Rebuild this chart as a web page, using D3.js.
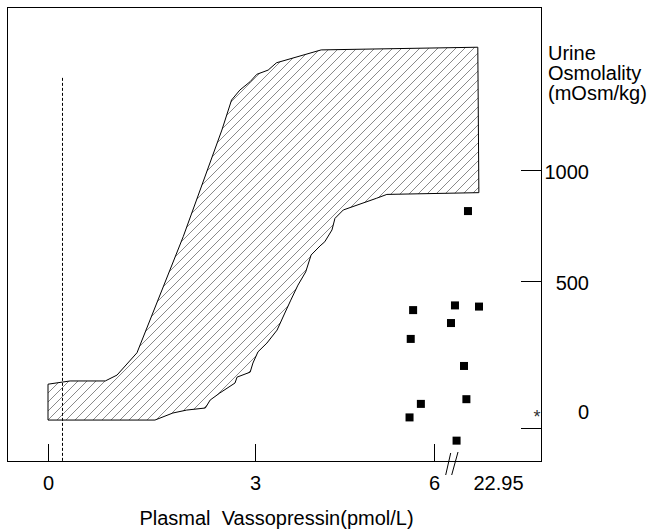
<!DOCTYPE html>
<html>
<head>
<meta charset="utf-8">
<script src="https://cdn.jsdelivr.net/npm/d3@7"></script>
<style>
  body { margin: 0; background: #fff; }
  svg { display: block; font-family: "Liberation Sans", Arial, sans-serif; }
</style>
</head>
<body>
<svg id="chart" width="647" height="531"></svg>
<script>
"use strict"

// Axis ticks (x is broken after 6, last label is the maximum value)
const xTicks = [0, 3, 6, 22.95]
const yTicks = [0, 500, 1000]

// Normal range band: left/upper edge from bottom-left, then right/lower edge from top-right
const bandUpperEdge = [
    [0, 27], [0, 149], [0.32, 160], [0.83, 160], [1.0, 180], [1.29, 256],
    [1.96, 700], [2.52, 1180], [2.66, 1315], [2.78, 1360], [2.93, 1398],
    [3.03, 1431], [3.22, 1450], [3.36, 1483], [4.11, 1541], [22.5, 1553]
]
const bandLowerEdge = [
    [22.9, 898], [5.21, 890], [5.04, 873], [4.48, 820], [4.34, 782], [4.29, 730],
    [4.17, 677], [4.09, 658], [3.94, 617], [3.85, 541], [3.72, 486], [3.60, 435],
    [3.50, 391], [3.37, 333], [3.20, 289], [3.05, 259], [2.97, 221], [2.93, 190],
    [2.74, 173], [2.71, 153], [2.49, 119], [2.35, 95], [2.28, 68], [2.01, 61],
    [1.81, 51], [1.55, 27]
]

// Patients: plasma vasopressin (pmol/L), urine osmolality (mOsm/kg)
const patientAVP = [18.8, 5.65, 13.9, 22.95, 12.4, 5.61, 17.3, 18.2, 5.78, 5.59, 14.5]
const patientUosm = [815, 401, 417, 413, 357, 303, 211, 98, 82, 36, -43]

// dashed reference line
const refLineX = 0.21
const refLineTop = 1415

const frame = { left: 7.5, top: 7.5, right: 541.5, bottom: 461.5 }

const svg = d3.select("#chart")

const x = d3.scaleLinear().domain(xTicks).range([48, 255, 434, 479])
const y = d3.scaleLinear().domain(yTicks).range([428, 281, 170])

// hatch pattern
const hatch = svg.append("defs").append("pattern")
    .attr("id", "hatch")
    .attr("patternUnits", "userSpaceOnUse")
    .attr("width", 9)
    .attr("height", 9)
hatch.append("path")
    .attr("d", "M0,9 L9,0 M-2,2 L2,-2 M7,11 L11,7")
    .attr("stroke", "#8a8a8a")
    .attr("stroke-width", 1)

// frame
svg.append("rect")
    .attr("x", frame.left)
    .attr("y", frame.top)
    .attr("width", frame.right - frame.left)
    .attr("height", frame.bottom - frame.top)
    .attr("fill", "none")
    .attr("stroke", "#000")
    .attr("stroke-width", 1)

// band
const band = bandUpperEdge.concat(bandLowerEdge)
svg.append("path")
    .datum(band)
    .attr("d", d3.line().x(d => x(d[0])).y(d => y(d[1])).curve(d3.curveLinearClosed))
    .attr("fill", "url(#hatch)")
    .attr("stroke", "#000")
    .attr("stroke-width", 1)
    .attr("stroke-linejoin", "round")

// dashed line
svg.append("line")
    .attr("x1", Math.round(x(refLineX)) + 0.5)
    .attr("x2", Math.round(x(refLineX)) + 0.5)
    .attr("y1", y(refLineTop))
    .attr("y2", frame.bottom)
    .attr("stroke", "#000")
    .attr("stroke-width", 1)
    .attr("stroke-dasharray", "3,2")

// patients
svg.selectAll(".pt")
    .data(patientAVP.map((v, i) => ({ avp: v, uosm: patientUosm[i] })))
    .enter()
    .append("rect")
    .attr("class", "pt")
    .attr("x", d => x(d.avp) - 4)
    .attr("y", d => y(d.uosm) - 4)
    .attr("width", 8)
    .attr("height", 8)
    .attr("fill", "#000")

// x axis
const xAxis = svg.append("g")
    .attr("transform", "translate(0," + (frame.bottom - 0.5) + ")")
    .call(d3.axisBottom(x).tickValues(xTicks).tickSize(-17).tickPadding(15)
        .tickFormat(d => String(d)))
xAxis.select(".domain").remove()
xAxis.selectAll("text").style("font-size", "20px").attr("fill", "#000")
xAxis.selectAll(".tick").filter(d => d === 22.95).select("line").remove()
xAxis.selectAll(".tick").filter(d => d === 22.95).select("text")
    .style("text-anchor", "start").attr("x", -6)

// axis break marks
const x6 = x(6)
svg.append("path")
    .attr("d", "M" + (x6 + 11.7) + ",475 L" + (x6 + 16.7) + ",453 M" + (x6 + 17.7) + ",475 L" + (x6 + 24) + ",452")
    .attr("stroke", "#000")
    .attr("stroke-width", 1)
    .attr("fill", "none")

svg.append("text")
    .attr("x", 276.5)
    .attr("y", 525)
    .style("text-anchor", "middle")
    .style("font-size", "20px")
    .attr("xml:space", "preserve")
    .text("Plasmal  Vassopressin(pmol/L)")

// y axis on the right
const yAxis = svg.append("g")
    .attr("transform", "translate(" + (frame.right - 0.5) + ",0)")
    .call(d3.axisRight(y).tickValues(yTicks).tickSize(-20).tickPadding(0)
        .tickFormat(d => String(d)))
yAxis.select(".domain").remove()
yAxis.selectAll("text")
    .style("font-size", "20px")
    .style("text-anchor", "end")
    .attr("fill", "#000")
    .attr("x", 48)
    .attr("dy", d => d === 0 ? "-0.5em" : "0.4em")

svg.append("text")
    .attr("x", frame.right - 1)
    .attr("y", y(0) - 5)
    .style("text-anchor", "end")
    .style("font-size", "18px")
    .attr("fill", "#333")
    .text("*")

const yLabel = ["Urine", "Osmolality", "(mOsm/kg)"]
svg.append("text")
    .attr("x", 548)
    .attr("y", 60)
    .style("font-size", "20px")
    .selectAll("tspan")
    .data(yLabel)
    .enter()
    .append("tspan")
    .attr("x", 548)
    .attr("dy", (d, i) => i === 0 ? 0 : 20)
    .text(d => d)
</script>
</body>
</html>
